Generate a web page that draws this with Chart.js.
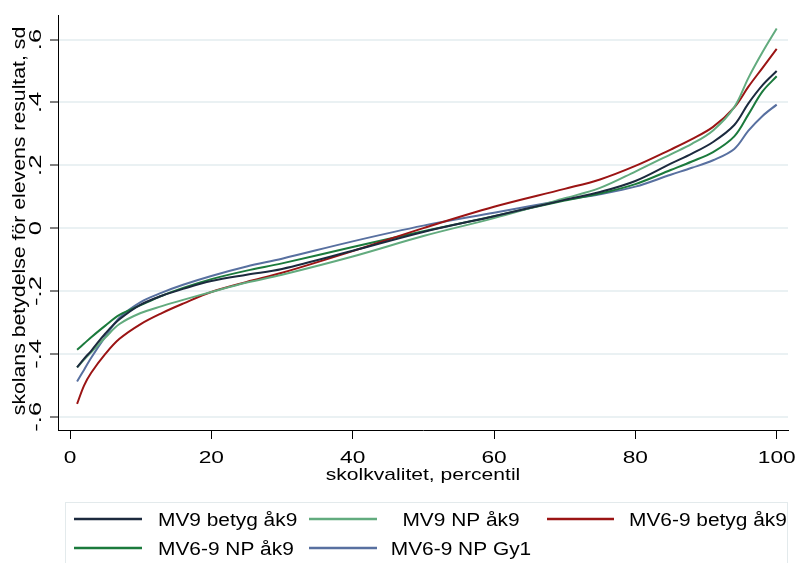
<!DOCTYPE html>
<html>
<head>
<meta charset="utf-8">
<script src="https://cdn.jsdelivr.net/npm/chart.js@4.4.1/dist/chart.umd.min.js"></script>
<style>
  body { margin: 0; background: #fff; }
  canvas { display: block; }
</style>
</head>
<body>
<canvas id="chart" width="795" height="563"></canvas>
<script>
// percentile (x) and series values
const percentiles = [1, 2, 3, 5, 7, 10, 13, 16, 20, 25, 30, 40, 50, 60, 70, 75, 80, 85, 88, 91, 94, 96, 98, 100];

const mv9Betyg   = [-0.443, -0.415, -0.390, -0.335, -0.290, -0.243, -0.215, -0.193, -0.168, -0.148, -0.130, -0.072, -0.012, 0.038, 0.090, 0.115, 0.150, 0.205, 0.237, 0.274, 0.328, 0.397, 0.455, 0.500];
const mv9NP      = [-0.443, -0.418, -0.395, -0.348, -0.305, -0.270, -0.248, -0.228, -0.203, -0.173, -0.148, -0.090, -0.025, 0.032, 0.095, 0.128, 0.180, 0.235, 0.268, 0.311, 0.385, 0.478, 0.560, 0.635];
const mv69Betyg  = [-0.559, -0.500, -0.460, -0.400, -0.352, -0.305, -0.270, -0.240, -0.203, -0.171, -0.142, -0.073, 0.000, 0.068, 0.125, 0.155, 0.198, 0.250, 0.283, 0.322, 0.384, 0.450, 0.510, 0.570];
const mv69NP     = [-0.387, -0.367, -0.347, -0.310, -0.276, -0.245, -0.215, -0.190, -0.162, -0.135, -0.112, -0.060, -0.010, 0.038, 0.088, 0.110, 0.140, 0.185, 0.212, 0.242, 0.292, 0.362, 0.435, 0.483];
const mv69Gy1    = [-0.488, -0.450, -0.412, -0.345, -0.285, -0.235, -0.205, -0.180, -0.152, -0.122, -0.097, -0.042, 0.008, 0.049, 0.090, 0.108, 0.132, 0.170, 0.192, 0.216, 0.252, 0.310, 0.357, 0.393];

const seriesLabels = ['MV9 betyg åk9', 'MV9 NP åk9', 'MV6-9 betyg åk9', 'MV6-9 NP åk9', 'MV6-9 NP Gy1'];
const seriesValues = [mv9Betyg, mv9NP, mv69Betyg, mv69NP, mv69Gy1];
const seriesColors = ['#1c2a3e', '#62ab7e', '#9b1414', '#1b7a3c', '#5870a0'];

const xTicks = [0, 20, 40, 60, 80, 100];
const yTicks = [-0.6, -0.4, -0.2, 0, 0.2, 0.4, 0.6];
const xTitle = 'skolkvalitet, percentil';
const yTitle = 'skolans betydelse för elevens resultat, sd';

const FONT = '"Liberation Sans", Arial, sans-serif';

// text in the reference is drawn wide, so stretch it along its direction
function wideText(ctx, text, x, y, size, sx, rot, align) {
  ctx.save();
  ctx.translate(x, y);
  if (rot) ctx.rotate(rot);
  ctx.scale(sx, 1);
  ctx.font = size + 'px ' + FONT;
  ctx.fillStyle = '#000';
  ctx.textAlign = align || 'center';
  ctx.textBaseline = 'alphabetic';
  ctx.fillText(text, 0, 0);
  ctx.restore();
}

function fmtY(v) {
  if (Math.abs(v) < 1e-9) return '0';
  const s = Math.abs(v).toFixed(1).replace(/^0/, '');
  return (v < 0 ? '-' : '') + s;
}

const textPlugin = {
  id: 'stataText',
  afterDraw(chart) {
    const ctx = chart.ctx;
    const xs = chart.scales.x, ys = chart.scales.y;

    // y tick labels, rotated
    ys.ticks.forEach(t => {
      wideText(ctx, fmtY(t.value), 41, ys.getPixelForValue(t.value), 16, 1.6, -Math.PI / 2);
    });
    // y title
    wideText(ctx, yTitle, 25, 221, 18, 1.18, -Math.PI / 2);

    // x tick labels
    xs.ticks.forEach(t => {
      wideText(ctx, String(t.value), xs.getPixelForValue(t.value), 463, 16, 1.42, 0);
    });
    // x title
    const area = chart.chartArea;
    wideText(ctx, xTitle, (area.left + area.right) / 2, 480, 17, 1.24, 0);

    // legend box
    ctx.save();
    ctx.strokeStyle = '#e3eaec';
    ctx.lineWidth = 1;
    ctx.strokeRect(65.5, 502.5, 722, 80);
    const cols = [
      { l0: 74, l1: 142, tx: 158, align: 'left' },
      { l0: 309, l1: 377, tx: 461, align: 'center' },
      { l0: 547, l1: 614, tx: 629, align: 'left' }
    ];
    const rows = [519, 548];
    chart.data.datasets.forEach((ds, i) => {
      const c = cols[i % 3], ry = rows[Math.floor(i / 3)];
      ctx.strokeStyle = ds.borderColor;
      ctx.lineWidth = 2.5;
      ctx.beginPath();
      ctx.moveTo(c.l0, ry);
      ctx.lineTo(c.l1, ry);
      ctx.stroke();
      wideText(ctx, ds.label, c.tx, ry + 6.5, 18, 1.16, 0, c.align);
    });
    ctx.restore();
  }
};

new Chart(document.getElementById('chart'), {
  type: 'line',
  data: {
    datasets: seriesLabels.map((label, i) => ({
      label: label,
      data: percentiles.map((p, j) => ({ x: p, y: seriesValues[i][j] })),
      borderColor: seriesColors[i],
      backgroundColor: seriesColors[i],
      borderWidth: 2,
      pointRadius: 0,
      tension: 0.35,
      fill: false
    }))
  },
  options: {
    responsive: false,
    animation: false,
    layout: { padding: { top: 15, right: 7, left: 0, bottom: 0 } },
    plugins: {
      legend: { display: false },
      tooltip: { enabled: false }
    },
    scales: {
      x: {
        type: 'linear',
        min: -1.7,
        max: 101.6,
        afterBuildTicks: s => { s.ticks = xTicks.map(v => ({ value: v })); },
        afterFit: s => { s.height = 133; },
        ticks: { display: false },
        grid: { drawOnChartArea: false, drawTicks: true, tickLength: 9, tickColor: '#000', tickWidth: 1 },
        border: { display: true, color: '#000', width: 1 }
      },
      y: {
        type: 'linear',
        min: -0.642,
        max: 0.678,
        afterBuildTicks: s => { s.ticks = yTicks.map(v => ({ value: v })); },
        afterFit: s => { s.width = 58; },
        ticks: { display: false },
        grid: { color: '#eaf1f3', lineWidth: 2, drawTicks: true, tickLength: 8, tickColor: '#000', tickWidth: 1 },
        border: { display: true, color: '#000', width: 1 }
      }
    }
  },
  plugins: [textPlugin]
});
</script>
</body>
</html>
